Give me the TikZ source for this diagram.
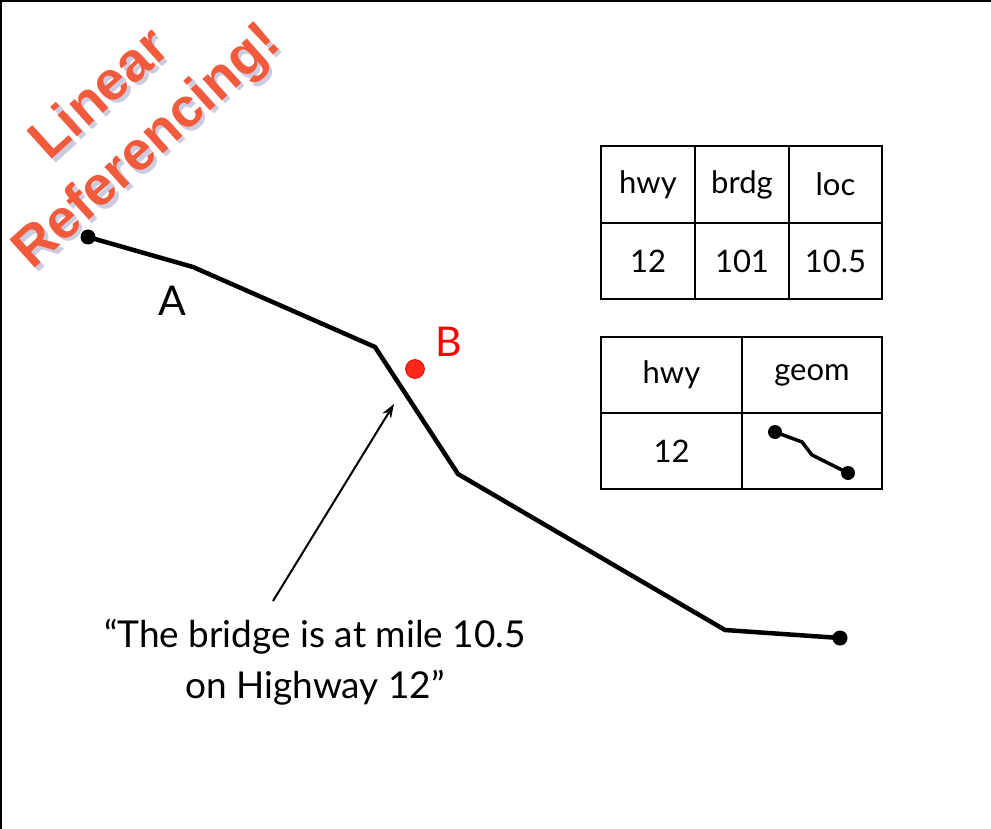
\documentclass[tikz,border=0pt]{standalone}
\usepackage{fontspec}
\setmainfont{Lato}
\newfontfamily\titlefont{Liberation Sans}
\usetikzlibrary{arrows.meta}
\definecolor{titlered}{RGB}{242,90,60}
\definecolor{shadowc}{RGB}{110,110,170}
\definecolor{dotred}{RGB}{255,40,25}
\begin{document}
\begin{tikzpicture}[x=1pt,y=-1pt,
  route/.style={line width=4.5pt, line join=round, line cap=round},
  enddot/.style={circle, fill=black, inner sep=0pt, minimum size=15pt},
  cell/.style={draw, line width=2.5pt, inner sep=0pt, font=\fontsize{31}{36}\selectfont},
  lbl/.style={font=\fontsize{41}{48}\selectfont, inner sep=0pt},
  titletext/.style={rotate=42, align=center, inner sep=0pt,
    font=\titlefont\bfseries\fontsize{55}{70}\selectfont}
]
\useasboundingbox (0,0) rectangle (991,829);
\fill[white] (0,0) rectangle (991,829);
% frame (top and left)
\draw[line width=2pt] (0,1) -- (991,1);
\draw[line width=2pt] (1,0) -- (1,829);

% title with shadow
\node[titletext, text=shadowc, opacity=0.35] (titleshadow) at (128.5,125.5) {Linear\\Referencing!};
\node[titletext, text=titlered] (title) at (125,122) {Linear\\Referencing!};

% route
\coordinate (p0) at (88,237);
\coordinate (p1) at (193,267);
\coordinate (p2) at (375,347);
\coordinate (p3) at (458,474);
\coordinate (p4) at (725,630);
\coordinate (p5) at (840,638);
\draw[route] (p0) -- (p1) -- (p2) -- (p3) -- (p4) -- (p5);
\node[enddot] (start) at (p0) {};
\node[enddot] (end) at (p5) {};

% labels
\node[lbl] (A) at (172,301) {A};
\node[lbl, text=red] (B) at (449,342) {B};
\node[circle, fill=dotred, draw=red!80!black, line width=0.6pt, inner sep=0pt, minimum size=19pt] (bridge) at (415,369) {};

% quote and arrow
\node[align=center, font=\fontsize{37}{51}\selectfont, inner sep=0pt] (quote) at (315,662)
  {“The bridge is at mile 10.5\\on Highway 12”};
\coordinate (arrtail) at (273,601);
\coordinate (arrtip) at (394,404);
\draw[line width=2pt, -{Stealth[length=14pt, width=10pt]}] (arrtail) -- (arrtip);

% table 1
\node[cell, minimum width=94pt, minimum height=77pt] (t1h1) at (648,184.5) {hwy};
\node[cell, minimum width=94pt, minimum height=77pt] (t1h2) at (742,184.5) {brdg};
\node[cell, minimum width=93pt, minimum height=77pt] (t1h3) at (835.5,184.5) {loc};
\node[cell, minimum width=94pt, minimum height=76pt] (t1v1) at (648,261) {12};
\node[cell, minimum width=94pt, minimum height=76pt] (t1v2) at (742,261) {101};
\node[cell, minimum width=93pt, minimum height=76pt] (t1v3) at (835.5,261) {10.5};

% table 2
\node[cell, minimum width=141pt, minimum height=76pt] (t2h1) at (671.5,375) {hwy};
\node[cell, minimum width=140pt, minimum height=76pt] (t2h2) at (812,375) {geom};
\node[cell, minimum width=141pt, minimum height=76pt] (t2v1) at (671.5,451) {12};
\node[cell, minimum width=140pt, minimum height=76pt] (t2v2) at (812,451) {};

% mini geometry
\coordinate (g1) at (775,432);
\coordinate (g2) at (802,442);
\coordinate (g3) at (812,455);
\coordinate (g4) at (848,473);
\draw[line width=3.5pt, line join=round] (g1) -- (g2) -- (g3) -- (g4);
\node[circle, fill=black, inner sep=0pt, minimum size=14pt] (gstart) at (g1) {};
\node[circle, fill=black, inner sep=0pt, minimum size=14pt] (gend) at (g4) {};
\end{tikzpicture}
\end{document}
